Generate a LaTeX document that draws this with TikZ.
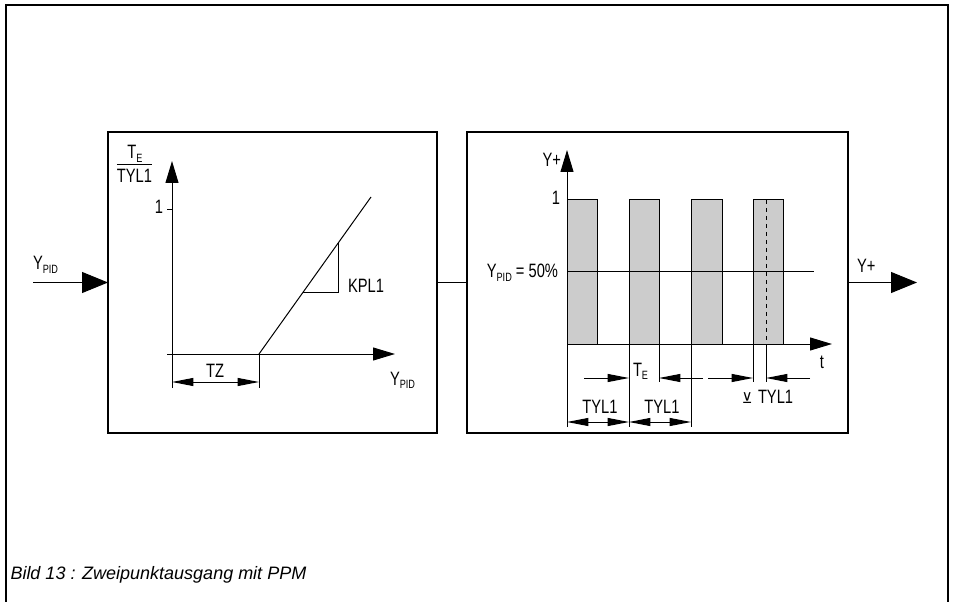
\documentclass[tikz,border=0pt]{standalone}
\usepackage{fontspec}
\setmainfont{Liberation Sans}
\newfontfamily\labf[FakeStretch=0.76]{Liberation Sans}
\newfontfamily\symf{DejaVu Sans}
\usetikzlibrary{arrows.meta,calc}
\newcommand\sbs[1]{\raisebox{-2.5pt}{\fontsize{9}{10}\selectfont #1}}
\begin{document}
\begin{tikzpicture}[x=0.75pt,y=-0.75pt,
  line width=0.75pt,
  lab/.style={inner sep=0pt, outer sep=0pt, font=\labf\fontsize{14.5}{16}\selectfont},
  box/.style={draw, inner sep=0pt, outer sep=0pt, line width=0.8pt},
  bigarrow/.style={-{Triangle[length=19.5pt,width=15.75pt]}},
  axarrow/.style={-{Triangle[length=16.5pt,width=9.75pt]}},
  dimarrow/.style={-{Triangle[length=16pt,width=6pt]}},
  dimboth/.style={{Triangle[length=16pt,width=6pt]}-{Triangle[length=16pt,width=6pt]}},
  pulse/.style={draw, fill=black!20, line width=0.75pt}]
\useasboundingbox (0,0) rectangle (953,602);
\draw[line width=1.5pt] (6,602) -- (6,5) -- (948,5) -- (948,602);

% blocks
\node[box, minimum width=246.75pt, minimum height=225.75pt] (lbox) at (272.5,282.5) {};
\node[box, minimum width=285.75pt, minimum height=225.75pt] (rbox) at (657.5,282.5) {};
\coordinate (in) at (33,282.5);
\coordinate (out) at (917,282.5);
\draw[bigarrow] (in) -- (lbox.west);
\draw (lbox.east) -- (rbox.west);
\draw[bigarrow] (rbox.east) -- (out);
\node[lab, anchor=base west] (yin) at (33,270) {Y\sbs{PID}};
\node[lab, anchor=base west] (yout) at (857,273) {Y+};

% left characteristic
\coordinate (lybot) at (172,388);
\coordinate (lytip) at (172,161);
\coordinate (lxs) at (167,354);
\coordinate (lxtip) at (395,354);
\coordinate (one) at (172,210);
\coordinate (tz) at (259,354);
\coordinate (tzb) at (259,388);
\coordinate (rampend) at (371,197);
\coordinate (dzl) at (172,382);
\coordinate (dzr) at (259,382);
\draw[axarrow] (lybot) -- (lytip);
\draw[axarrow] (lxs) -- (lxtip);
\draw (one) -- ++(-5,0);
\draw (tz) -- (tzb);
\draw (tz) -- (rampend);
\draw ($(tz)!0.714!(rampend)$) |- ($(tz)!0.392!(rampend)$);
\draw[dimboth] (dzl) -- (dzr);
\node[lab, anchor=base] (te1) at (135,159) {T\sbs{E}};
\node[lab, anchor=base] (tyl0) at (134.5,183) {TYL1};
\coordinate (barY) at (0,164.5);
\draw (tyl0.west |- barY) -- (tyl0.east |- barY);
\node[lab, anchor=base east] (one1) at (163,214) {1};
\node[lab, anchor=base west] (kpl) at (348,293) {KPL1};
\node[lab, anchor=base] (tzl) at (215,377) {TZ};
\node[lab, anchor=base west] (ypidx) at (390,385) {Y\sbs{PID}};

% right: pulse train
\foreach \a/\b in {567/597, 629/659, 691/722, 753/783}
  \draw[pulse] (\a,344) rectangle (\b,200);
\coordinate (rybot) at (567,427);
\coordinate (rytip) at (567,150);
\coordinate (ro) at (567,344);
\coordinate (rxtip) at (832,344);
\draw[axarrow] (rybot) -- (rytip);
\draw[axarrow] (ro) -- (rxtip);
\draw (567,272) -- (814,272);
\draw[dashed] (766,200) -- (766,344);
\draw (629,344) -- (629,427);
\draw (691,344) -- (691,427);
\draw (659,344) -- (659,382);
\draw (753,344) -- (753,382);
\draw (766,344) -- (766,382);
\draw[dimboth] (567,422) -- (629,422);
\draw[dimboth] (629,422) -- (691,422);
\draw[dimarrow] (584,378) -- (629,378);
\draw[dimarrow] (703,378) -- (659,378);
\draw[dimarrow] (708,378) -- (753,378);
\draw[dimarrow] (810,378) -- (766,378);
\node[lab, anchor=base east] (yplus) at (561,167) {Y+};
\node[lab, anchor=base east] (one2) at (560,205) {1};
\node[lab, anchor=base east] (y50) at (558,278) {Y\sbs{PID} = 50\%};
\node[lab, anchor=base] (tl) at (822,368) {t};
\node[lab, anchor=base west] (te2) at (633,376) {T\sbs{E}};
\node[lab, anchor=base] (tyl1) at (600,413) {TYL1};
\node[lab, anchor=base] (tyl2) at (662,413) {TYL1};
\node[lab, anchor=base west] (tyl3) at (758,403) {TYL1};
\node[inner sep=0pt, anchor=base east, font=\symf\fontsize{11}{11}\selectfont] (sym) at (753,403) {⊻};

% caption
\node[anchor=base west, inner sep=0pt, font=\itshape\fontsize{13.5}{16}\selectfont] (cap) at (10,579) {Bild 13 : Zweipunktausgang mit PPM};
\end{tikzpicture}
\end{document}
